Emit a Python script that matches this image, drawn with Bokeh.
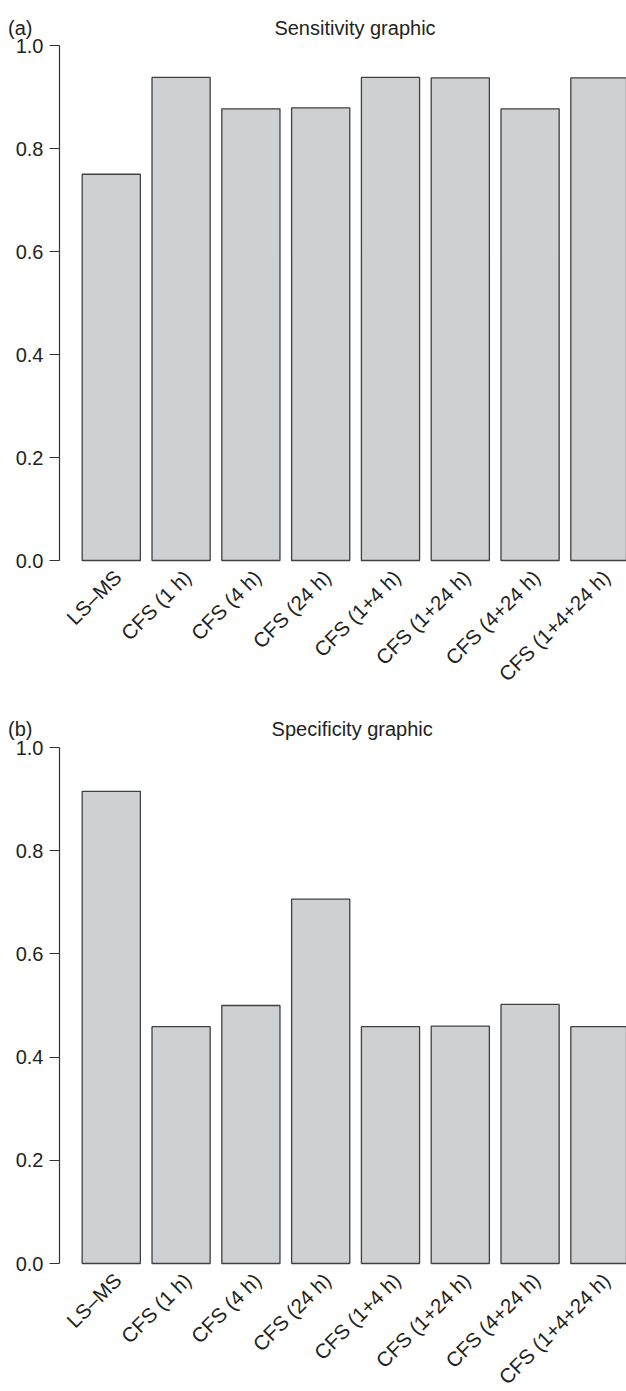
from bokeh.plotting import figure
from bokeh.models import Range1d, FixedTicker, Label, LinearAxis
from bokeh.layouts import column
from bokeh.embed import file_html
from bokeh.resources import INLINE

categories = ["LS–MS", "CFS (1 h)", "CFS (4 h)", "CFS (24 h)", "CFS (1+4 h)",
              "CFS (1+24 h)", "CFS (4+24 h)", "CFS (1+4+24 h)"]
sensitivity = [0.750, 0.938, 0.877, 0.879, 0.938, 0.937, 0.877, 0.937]
specificity = [0.915, 0.459, 0.500, 0.706, 0.459, 0.460, 0.502, 0.459]
y_ticks = [0.0, 0.2, 0.4, 0.6, 0.8, 1.0]
y_tick_labels = ["0.0", "0.2", "0.4", "0.6", "0.8", "1.0"]
panel_letters = ["(a)", "(b)"]
panel_titles = ["Sensitivity graphic", "Specificity graphic"]

FONT = "Liberation Sans"
TXT = "#231f20"
W = 626
PX_PER_UNIT = 69.8      # horizontal pixels per bar slot
AXIS_PX = 59            # pixel column of the y axis
AXIS_X = -0.742         # data x of the y axis
BAR_W = 1 / 1.2


def make_panel(values, letter, title, height, zero_px, one_px, title_px, title_base_px):
    idx = list(range(len(categories)))
    x0 = AXIS_X - AXIS_PX / PX_PER_UNIT
    x1 = x0 + W / PX_PER_UNIT
    unit = zero_px - one_px
    y_top = zero_px / unit
    y_bot = -(height - zero_px) / unit

    p = figure(width=W, height=height,
               x_range=Range1d(x0, x1), y_range=Range1d(y_bot, y_top),
               x_axis_location=None, y_axis_location=None,
               output_backend="svg", toolbar_location=None,
               min_border_left=0, min_border_right=0,
               min_border_top=0, min_border_bottom=0)
    p.vbar(x=idx, top=values, bottom=0, width=BAR_W,
           fill_color="#cfd0d2", line_color="#404040", line_width=1.3)
    p.xgrid.visible = False
    p.ygrid.visible = False
    p.outline_line_color = None
    p.background_fill_color = "white"
    p.border_fill_color = "white"

    ya = LinearAxis(fixed_location=AXIS_X, bounds=(0, 1))
    ya.ticker = FixedTicker(ticks=y_ticks)
    ya.major_label_overrides = {t: s for t, s in zip(y_ticks, y_tick_labels)}
    ya.minor_tick_line_color = None
    ya.major_tick_out = 10
    ya.major_tick_in = 0
    ya.axis_line_color = "#333333"
    ya.axis_line_width = 1.2
    ya.major_tick_line_color = "#333333"
    ya.major_tick_line_width = 1.2
    ya.major_label_text_font = FONT
    ya.major_label_text_font_size = "20px"
    ya.major_label_text_color = TXT
    ya.major_label_standoff = 6
    p.add_layout(ya, "left")

    tick_pos = [round(i + 0.09, 2) for i in idx]
    xa = LinearAxis(fixed_location=0)
    xa.ticker = FixedTicker(ticks=tick_pos)
    xa.major_label_overrides = {t: c for t, c in zip(tick_pos, categories)}
    xa.major_label_orientation = 0.785398
    xa.axis_line_color = None
    xa.major_tick_line_color = None
    xa.minor_tick_line_color = None
    xa.major_tick_out = 6
    xa.major_label_text_font = FONT
    xa.major_label_text_font_size = "20.5px"
    xa.major_label_text_color = TXT
    xa.major_label_standoff = 7
    p.add_layout(xa, "below")

    def dx(px):
        return x0 + px / PX_PER_UNIT

    def dy(px):
        return (zero_px - px) / unit

    p.add_layout(Label(x=dx(title_px), y=dy(title_base_px), text=title,
                       text_align="center", text_baseline="alphabetic",
                       text_font=FONT, text_font_size="20px", text_color=TXT))
    p.add_layout(Label(x=dx(7.5), y=dy(title_base_px), text=letter,
                       text_align="left", text_baseline="alphabetic",
                       text_font=FONT, text_font_size="20px", text_color=TXT))
    return p


pa = make_panel(sensitivity, panel_letters[0], panel_titles[0],
                690, 560, 45, 354.5, 27.7)
pb = make_panel(specificity, panel_letters[1], panel_titles[1],
                701, 573, 57, 351.7, 38.7)
layout = column(pa, pb, spacing=0)

open("out.html", "w").write(file_html(layout, INLINE))
